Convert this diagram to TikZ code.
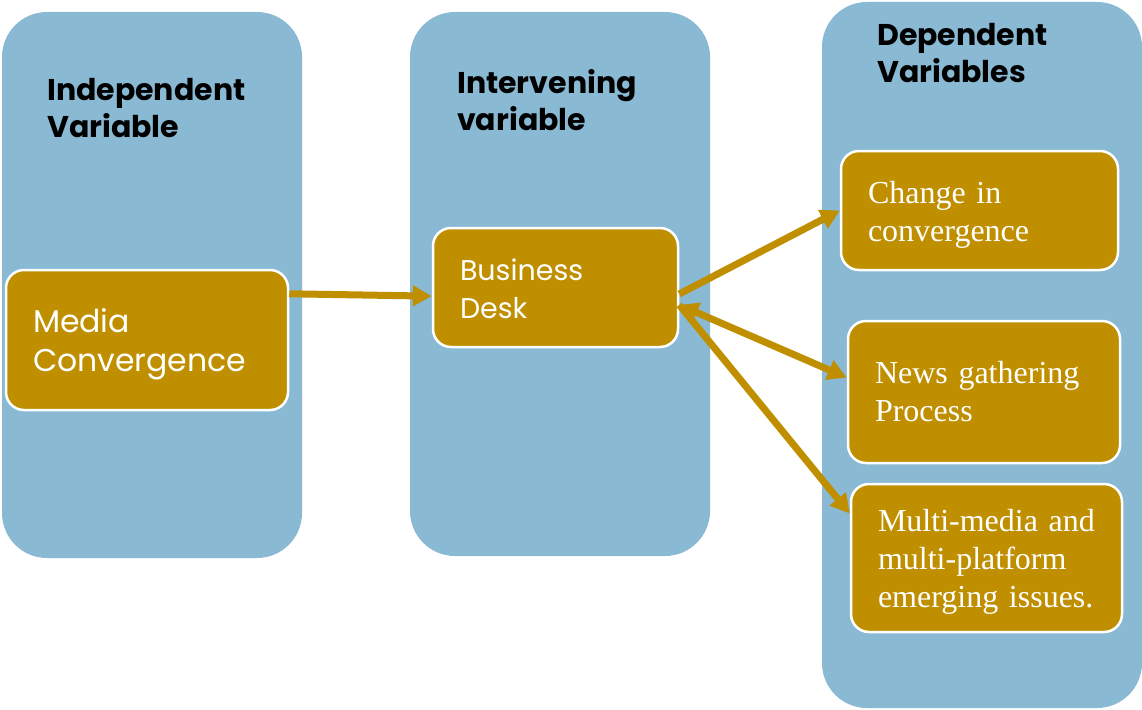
\documentclass[tikz,border=0pt]{standalone}
\usepackage{fontspec}
\setmainfont{Liberation Serif}
\newfontfamily\gothic{Poppins}
\usetikzlibrary{arrows.meta}

\definecolor{colblue}{RGB}{138,185,211}
\definecolor{gold}{RGB}{191,143,0}
\newcommand\topstrut[1]{\rule{0pt}{#1}}

\begin{document}
\begin{tikzpicture}[x=1pt,y=-1pt,
  column/.style={fill=colblue, rounded corners=45pt, inner sep=0pt},
  title/.style={anchor=north west, inner sep=0pt, align=left, font=\gothic\bfseries\fontsize{30}{37}\selectfont},
  varbox/.style={draw=white, line width=2.5pt, fill=gold, rounded corners=18pt, text=white, align=left, inner xsep=27pt, inner ysep=0pt},
  serifbox/.style={varbox, font=\fontsize{32}{38}\selectfont},
  link/.style={draw=gold, fill=gold, line width=7pt, -{Triangle[length=19pt,width=20pt]}}]

\useasboundingbox (0,0) rectangle (1142,709);

% columns
\node[column, minimum width=300pt, minimum height=546pt] (c1) at (152,285) {};
\node[column, minimum width=300pt, minimum height=544pt] (c2) at (560,284) {};
\node[column, minimum width=320pt, minimum height=706pt] (c3) at (982,355) {};

\node[title] (iv) at (47,78) {Independent\\Variable};
\node[title] (inv) at (457,69) {Intervening\\variable};
\node[title] (dv) at (877,23) {Dependent\\Variables};

% variables
\node[varbox, font=\gothic\fontsize{31.5}{39}\selectfont, text width=228pt, minimum height=140pt] (mc) at (147,340) {\topstrut{33pt}Media\\Convergence};
\node[varbox, font=\gothic\fontsize{28.5}{38}\selectfont, text width=191pt, minimum height=119pt] (bd) at (555.5,287.5) {\topstrut{25pt}Business\\Desk};
\node[serifbox, text width=223pt, minimum height=119pt] (cc) at (979.5,210.5) {\topstrut{30pt}Change in\\convergence};
\node[serifbox, text width=218pt, minimum height=142pt] (ng) at (984,392) {News gathering\\Process};
\node[serifbox, text width=217pt, minimum height=148pt] (mm) at (986.5,558) {\topstrut{29pt}Multi-media and\\multi-platform\\emerging issues.};

\draw[link] (mc.18) -- (bd.184);
\draw[link] (bd.-3) -- (cc.west);
\draw[link, {Triangle[length=19pt,width=20pt]}-{Triangle[length=19pt,width=20pt]}] (bd.-8) -- (ng.174);
\draw[link] (bd.-8) -- (mm.162);
\end{tikzpicture}
\end{document}
